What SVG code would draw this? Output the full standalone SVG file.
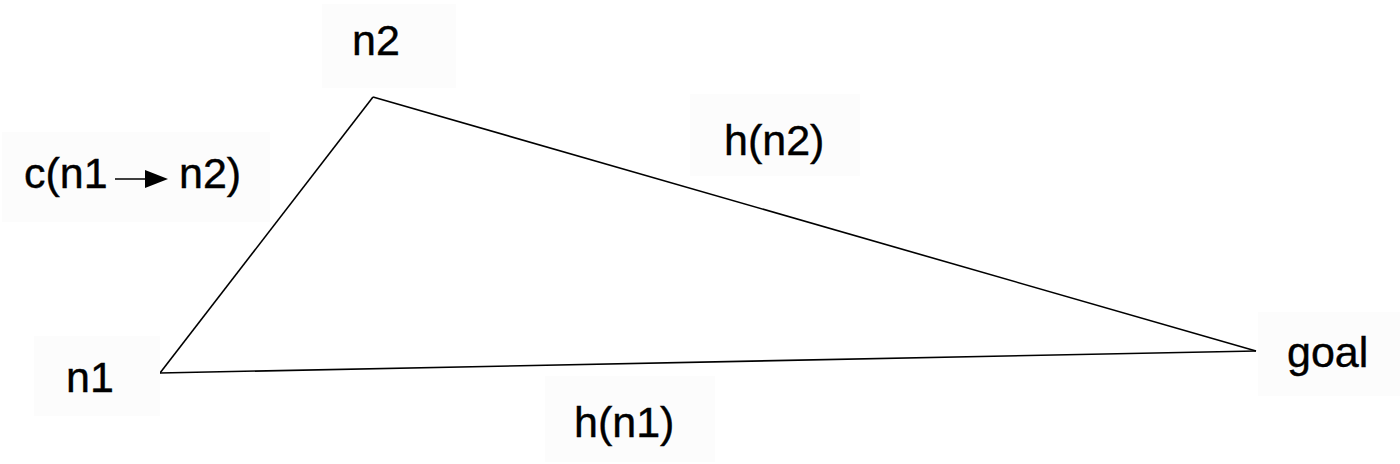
<svg xmlns="http://www.w3.org/2000/svg" width="1400" height="464" viewBox="0 0 1400 464">
  <style>
    .lbl { font-family: "Liberation Sans", Arial, sans-serif; font-size: 43px; fill: #000; stroke: #000; stroke-width: 0.4; }
    .bg { fill: #fcfcfc; }
    .edge { stroke: #000; stroke-width: 1.6; fill: none; }
  </style>
  <rect width="1400" height="464" fill="#fff"/>
  <g id="connectors">
    <line class="edge" x1="373" y1="97" x2="160" y2="373"/>
    <line class="edge" x1="373" y1="97" x2="1256" y2="351"/>
    <line class="edge" x1="160" y1="373" x2="1256" y2="351"/>
  </g>
  <g id="node-n2">
    <rect class="bg" x="322" y="4" width="134" height="84"/>
    <text class="lbl" x="352" y="55">n2</text>
  </g>
  <g id="node-n1">
    <rect class="bg" x="34" y="336" width="126" height="80"/>
    <text class="lbl" x="66" y="392">n1</text>
  </g>
  <g id="node-goal">
    <rect class="bg" x="1258" y="312" width="142" height="84"/>
    <text class="lbl" x="1287" y="367">goal</text>
  </g>
  <g id="label-cost">
    <rect class="bg" x="2" y="132" width="268" height="90"/>
    <text class="lbl" x="24" y="188">c(n1</text>
    <line x1="115" y1="179" x2="148" y2="179" stroke="#000" stroke-width="1.6"/>
    <polygon points="145,170 168,179 145,188" fill="#000"/>
    <text class="lbl" x="179" y="188">n2)</text>
  </g>
  <g id="label-hn2">
    <rect class="bg" x="690" y="94" width="170" height="82"/>
    <text class="lbl" x="724" y="155">h(n2)</text>
  </g>
  <g id="label-hn1">
    <rect class="bg" x="545" y="376" width="170" height="86"/>
    <text class="lbl" x="574" y="437">h(n1)</text>
  </g>
</svg>
